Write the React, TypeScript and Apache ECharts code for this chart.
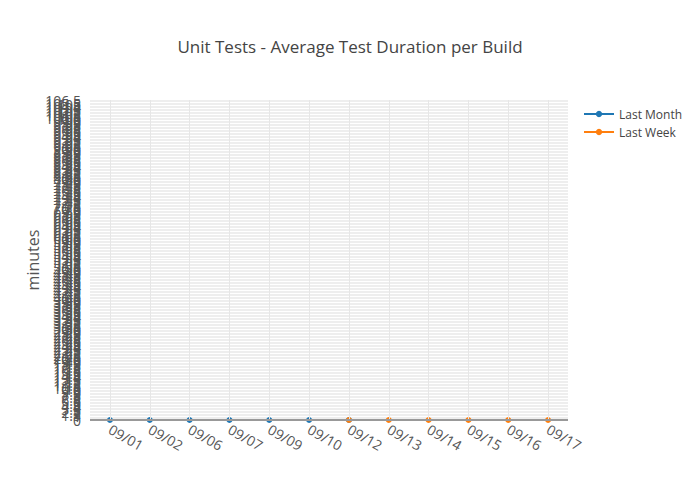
import React, { useEffect, useRef } from "react";
import * as echarts from "echarts";

const dates = ["09/01", "09/02", "09/06", "09/07", "09/09", "09/10", "09/12", "09/13", "09/14", "09/15", "09/16", "09/17"];
const lastMonth = [0, 0, 0, 0, 0, 0, 0, null, null, null, null, null];
const lastWeek = [null, null, null, null, null, null, 0, 0, 0, 0, 0, 0];
const yMax = 106.5;
const yStep = 0.5;

export default function App() {
  const ref = useRef<HTMLDivElement>(null);
  useEffect(() => {
    const chart = echarts.init(ref.current!, null, { renderer: "svg" });
    const font = "'Open Sans', 'Noto Sans', sans-serif";
    chart.setOption({
      animation: false,
      textStyle: { fontFamily: font },
      title: {
        text: "Unit Tests - Average Test Duration per Build",
        left: "center",
        top: 33,
        textStyle: { fontSize: 17, fontWeight: "normal", color: "#444", fontFamily: font },
      },
      legend: {
        orient: "vertical",
        left: 578,
        top: 103,
        itemWidth: 30,
        itemHeight: 8,
        itemGap: 6,
        textStyle: { fontSize: 12, color: "#444", fontFamily: font },
        data: ["Last Month", "Last Week"],
      },
      grid: { left: 90, right: 132, top: 100, bottom: 80, containLabel: false },
      xAxis: {
        type: "category",
        data: dates,
        boundaryGap: true,
        axisLine: { show: false },
        axisTick: { show: false },
        axisLabel: { rotate: -30, fontSize: 14, color: "#555", margin: 8, fontFamily: font, interval: 0 },
        splitLine: { show: false },
      },
      yAxis: {
        type: "value",
        name: "minutes",
        nameLocation: "middle",
        nameGap: 49,
        nameMoveOverlap: false,
        nameTextStyle: { fontSize: 16, color: "#555", fontFamily: font },
        min: 0,
        max: yMax,
        interval: yStep,
        axisLine: { show: false },
        axisTick: { show: false },
        axisLabel: { fontSize: 14, color: "#555", margin: 9, fontFamily: font, showMaxLabel: true, showMinLabel: true, hideOverlap: false },
        splitLine: { show: true, lineStyle: { color: "#eee", width: 1 } },
      },
      series: [
        {
          name: "Last Month",
          type: "line",
          data: lastMonth,
          color: "#1f77b4",
          symbol: "circle",
          symbolSize: 6,
          lineStyle: { width: 2 },
          connectNulls: false,
          z: 3,
          markLine: {
            silent: true,
            symbol: "none",
            label: { show: false },
            lineStyle: { color: "#e6e6e6", width: 1, type: "solid" },
            data: dates.map((d) => ({ xAxis: d })),
          },
        },
        {
          name: "Last Week",
          type: "line",
          data: lastWeek,
          color: "#ff7f0e",
          symbol: "circle",
          symbolSize: 6,
          lineStyle: { width: 2 },
          z: 4,
          markLine: {
            silent: true,
            symbol: "none",
            label: { show: false },
            lineStyle: { color: "#999", width: 2, type: "solid" },
            data: [{ yAxis: 0 }],
          },
        },
      ],
    });
    return () => chart.dispose();
  }, []);
  return <div ref={ref} style={{ width: 700, height: 500, position: "absolute", left: 0, top: 0 }} />;
}
